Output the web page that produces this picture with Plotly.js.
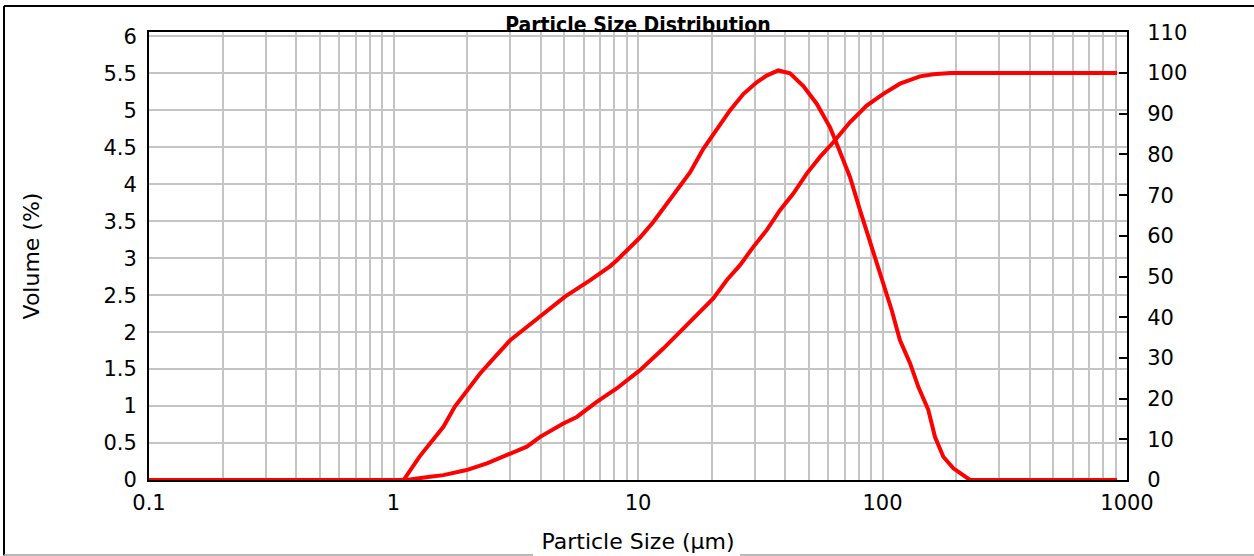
<!DOCTYPE html>
<html>
<head>
<meta charset="utf-8">
<script src="https://cdn.plot.ly/plotly-3.0.1.min.js"></script>
<style>
html,body{margin:0;padding:0;background:#fff;}
#chart{width:1254px;height:556px;}
</style>
</head>
<body>
<div id="chart"></div>
<script>
// Differential volume distribution (left axis, %)
const sizeDiff = [0.1, 1.1, 1.28, 1.46, 1.60, 1.78, 1.93, 2.26, 2.64, 3.00, 3.51, 4.10, 5.03, 6.36, 6.99, 7.68, 8.18, 9.28, 9.72, 10.19, 11.55, 12.69, 14.40, 16.32, 18.50, 20.98, 23.78, 26.96, 30.59, 33.6, 37.49, 41.85, 47.45, 53.81, 57.3, 61.0, 63.9, 69.1, 73.6, 80.9, 87.5, 94.7, 100.8, 109.0, 117.9, 129.6, 140.1, 153.9, 163.9, 177.3, 194.9, 214.1, 228, 910];
const volDiff = [0, 0, 0.32, 0.56, 0.72, 0.99, 1.15, 1.44, 1.69, 1.89, 2.07, 2.25, 2.48, 2.70, 2.79, 2.89, 2.97, 3.14, 3.20, 3.28, 3.49, 3.67, 3.92, 4.16, 4.48, 4.75, 5.00, 5.22, 5.38, 5.47, 5.54, 5.50, 5.33, 5.09, 4.93, 4.77, 4.61, 4.32, 4.10, 3.65, 3.29, 2.97, 2.66, 2.30, 1.89, 1.58, 1.26, 0.95, 0.585, 0.315, 0.158, 0.068, 0, 0];

// Cumulative volume (right axis, %)
const sizeCum = [0.1, 1.13, 1.41, 1.60, 1.99, 2.41, 2.90, 3.51, 3.98, 4.95, 5.62, 6.78, 8.18, 10.19, 12.69, 16.32, 20.32, 23.05, 26.14, 29.63, 33.61, 38.09, 43.17, 48.98, 55.52, 62.94, 73.6, 86.2, 100.8, 117.9, 142.4, 161.4, 185, 190, 910];
const volCum = [0, 0, 0.8, 1.2, 2.45, 4.1, 6.1, 8.2, 10.6, 13.9, 15.5, 19.2, 22.5, 27.0, 32.3, 38.9, 44.6, 49.1, 52.8, 57.3, 61.4, 66.3, 70.4, 75.3, 79.4, 83.0, 87.9, 92.0, 94.9, 97.4, 99.2, 99.7, 99.8, 100, 100];

// X grid positions (1..9 per decade) and labels (decades only)
const xTickVals = [0.1,0.2,0.3,0.4,0.5,0.6,0.7,0.8,0.9,1,2,3,4,5,6,7,8,9,10,20,30,40,50,60,70,80,90,100,200,300,400,500,600,700,800,900,1000];
const xTickText = xTickVals.map(v => ([0.1,1,10,100,1000].includes(v) ? String(v) : ''));

const titleText = 'Particle Size Distribution';
const xTitle = 'Particle Size (µm)';
const yTitle = 'Volume (%)';
const y2Title = '';

const W = 1254, H = 556;
const M = {l: 149, r: 127, t: 32, b: 76};
const pw = W - M.l - M.r, ph = H - M.t - M.b;
const px = x => (x - M.l) / pw;
const py = y => (H - M.b - y) / ph;

const red = '#ff0000';
const tickFont = {family: 'DejaVu Sans', size: 21, color: '#000'};
const gridCol = '#c4c4c4';

const traces = [
  {x: sizeDiff, y: volDiff, type: 'scatter', mode: 'lines', name: 'Volume',
   line: {color: red, width: 4}, yaxis: 'y', hoverinfo: 'x+y'},
  {x: sizeCum, y: volCum, type: 'scatter', mode: 'lines', name: 'Cumulative',
   line: {color: red, width: 4}, yaxis: 'y2', hoverinfo: 'x+y'}
];

const layout = {
  width: W, height: H,
  margin: M,
  paper_bgcolor: '#fff', plot_bgcolor: '#fff',
  showlegend: false,
  title: {text: '<b>' + titleText + '</b>', x: 0.5 * (M.l + W - M.r) / W, xanchor: 'center',
          yref: 'container', y: (H - 32) / H, yanchor: 'bottom',
          font: {family: 'DejaVu Sans Condensed', size: 21, color: '#000'}},
  xaxis: {
    type: 'log', range: [-1, 3],
    tickmode: 'array', tickvals: xTickVals, ticktext: xTickText,
    showgrid: true, gridcolor: gridCol, gridwidth: 2,
    ticks: '', showline: true, linecolor: '#000', linewidth: 2, mirror: true,
    layer: 'below traces', zeroline: false,
    tickfont: tickFont, ticklabelstandoff: 3,
    title: {text: xTitle, font: {family: 'DejaVu Sans', size: 22, color: '#000'}, standoff: 19}
  },
  yaxis: {
    range: [0, 6.06], dtick: 0.5, tick0: 0,
    showgrid: true, gridcolor: gridCol, gridwidth: 2,
    ticks: '', showline: true, linecolor: '#000', linewidth: 2, mirror: true,
    layer: 'below traces', zeroline: false,
    tickfont: tickFont, ticklabelstandoff: 6,
    title: {text: yTitle, font: {family: 'DejaVu Sans', size: 22, color: '#000'}, standoff: 58}
  },
  yaxis2: {
    overlaying: 'y', side: 'right', range: [0, 110.1], dtick: 10, tick0: 0,
    showgrid: false, zeroline: false,
    ticks: 'inside', ticklen: 8, tickwidth: 2, tickcolor: '#000',
    showline: true, linecolor: '#000', linewidth: 2,
    layer: 'below traces',
    tickfont: tickFont, ticklabelstandoff: 14,
    title: {text: y2Title}
  },
  shapes: [
    {type: 'line', xref: 'paper', yref: 'paper', x0: px(4), x1: px(1260), y0: py(6), y1: py(6),
     line: {color: '#000', width: 2}},
    {type: 'line', xref: 'paper', yref: 'paper', x0: px(4), x1: px(4), y0: py(6), y1: py(555.5),
     line: {color: '#000', width: 2}},
    {type: 'line', xref: 'paper', yref: 'paper', x0: px(4), x1: px(533), y0: py(555), y1: py(555),
     line: {color: '#a0a0a0', width: 1.5}},
    {type: 'line', xref: 'paper', yref: 'paper', x0: px(740), x1: px(1260), y0: py(555), y1: py(555),
     line: {color: '#a0a0a0', width: 1.5}}
  ]
};

Plotly.newPlot('chart', traces, layout, {displayModeBar: false, staticPlot: true});
</script>
</body>
</html>
